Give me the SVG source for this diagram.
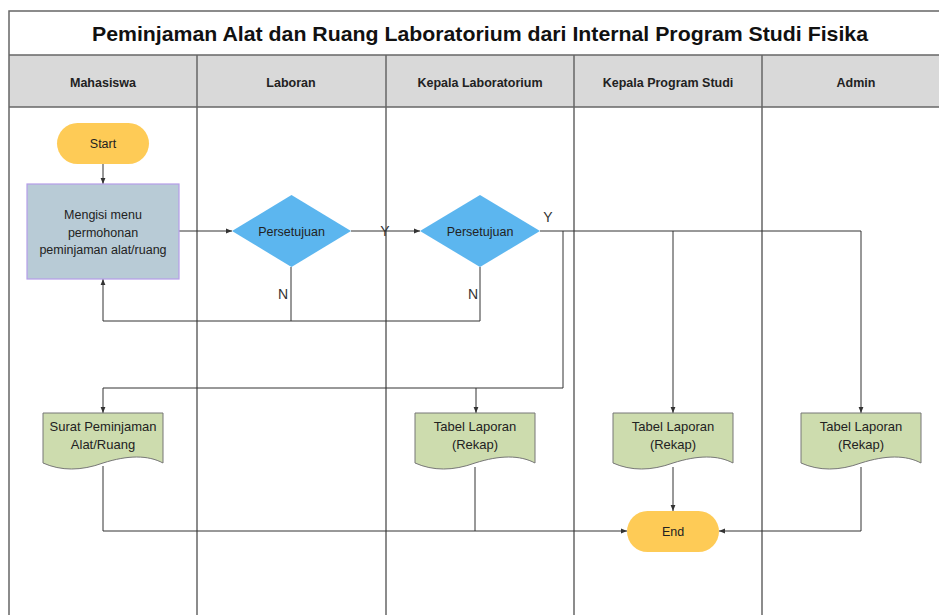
<svg xmlns="http://www.w3.org/2000/svg" width="939" height="615" viewBox="0 0 939 615">
  <defs>
    <marker id="arrow" viewBox="0 0 10 10" refX="10" refY="5" markerWidth="6" markerHeight="6" orient="auto" markerUnits="userSpaceOnUse">
      <path d="M0,1 L10,5 L0,9 Z" fill="#333"/>
    </marker>
    <path id="doc" d="M0,0 H120 V50 C105,42 85,42 60,50 C38,58 18,58 0,50 Z"/>
  </defs>
  <style>
    text { font-family: "Liberation Sans", Arial, sans-serif; fill: #222; }
    .frame { fill: none; stroke: #666; stroke-width: 1.5; }
    .header { fill: #d9d9d9; }
    .title { font-size: 21px; font-weight: bold; fill: #111; }
    .lane { font-size: 12.5px; font-weight: bold; text-anchor: middle; }
    .label { font-size: 12.5px; text-anchor: middle; }
    .doclabel { font-size: 13px; text-anchor: middle; }
    .yn { font-size: 14px; text-anchor: middle; fill: #333; }
    .terminal { fill: #fecb56; }
    .decision { fill: #5cb6ef; }
    .process { fill: #b8cbd6; stroke: #b59de8; stroke-width: 1.2; }
    .document { fill: #cddcae; stroke: #777; stroke-width: 1; }
    .conn { fill: none; stroke: #333; stroke-width: 1; }
    .arr { marker-end: url(#arrow); }
  </style>

  <rect width="939" height="615" fill="#fff"/>

  <!-- swimlane frame -->
  <g id="pool">
    <rect class="header" x="9" y="55" width="940" height="52"/>
    <rect class="frame" x="9" y="11" width="940" height="620"/>
    <line class="frame" x1="9" y1="55" x2="939" y2="55"/>
    <line class="frame" x1="9" y1="107" x2="939" y2="107"/>
    <line class="frame" x1="197" y1="55" x2="197" y2="615"/>
    <line class="frame" x1="386" y1="55" x2="386" y2="615"/>
    <line class="frame" x1="574" y1="55" x2="574" y2="615"/>
    <line class="frame" x1="762" y1="55" x2="762" y2="615"/>
    <text class="title" x="480" y="41" text-anchor="middle" textLength="776" lengthAdjust="spacingAndGlyphs">Peminjaman Alat dan Ruang Laboratorium dari Internal Program Studi Fisika</text>
    <text class="lane" x="103" y="87">Mahasiswa</text>
    <text class="lane" x="291" y="87">Laboran</text>
    <text class="lane" x="480" y="87">Kepala Laboratorium</text>
    <text class="lane" x="668" y="87">Kepala Program Studi</text>
    <text class="lane" x="856" y="87">Admin</text>
  </g>

  <!-- connectors -->
  <g id="connectors">
    <path class="conn arr" d="M103,164 V184"/>
    <path class="conn arr" d="M179,231 H232"/>
    <path class="conn arr" d="M351,231 H420"/>
    <path class="conn arr" d="M291,267 V321 H103 V279"/>
    <path class="conn" d="M480,267 V321 H291"/>
    <path class="conn arr" d="M540,231 H861 V413"/>
    <path class="conn arr" d="M673,231 V413"/>
    <path class="conn arr" d="M563,231 V388 H103 V413"/>
    <path class="conn arr" d="M476,388 V413"/>
    <path class="conn arr" d="M103,466 V531 H627"/>
    <path class="conn" d="M475,467 V531"/>
    <path class="conn arr" d="M673,467 V511"/>
    <path class="conn arr" d="M861,467 V531 H719"/>
    <text class="yn" x="385" y="236">Y</text>
    <text class="yn" x="548" y="222">Y</text>
    <text class="yn" x="283" y="299">N</text>
    <text class="yn" x="473" y="299">N</text>
  </g>

  <g id="start">
    <rect class="terminal" x="57" y="123" width="92" height="41" rx="20.5"/>
    <text class="label" x="103" y="148">Start</text>
  </g>

  <g id="isi-permohonan">
    <rect class="process" x="27" y="184" width="152" height="95"/>
    <text class="label" x="103" y="219" font-size="13">Mengisi menu</text>
    <text class="label" x="103" y="237" font-size="13">permohonan</text>
    <text class="label" x="103" y="254" font-size="13">peminjaman alat/ruang</text>
  </g>

  <g id="persetujuan-laboran">
    <polygon class="decision" points="291.5,195 351,231 291.5,267 232,231"/>
    <text class="label" x="291.5" y="235.5">Persetujuan</text>
  </g>

  <g id="persetujuan-kalab">
    <polygon class="decision" points="480,195 540,231 480,267 420,231"/>
    <text class="label" x="480" y="235.5">Persetujuan</text>
  </g>

  <g id="surat-peminjaman">
    <use href="#doc" class="document" x="43" y="413"/>
    <text class="doclabel" x="103" y="431">Surat Peminjaman</text>
    <text class="doclabel" x="103" y="449">Alat/Ruang</text>
  </g>

  <g id="laporan-kalab">
    <use href="#doc" class="document" x="415" y="413"/>
    <text class="doclabel" x="475" y="431">Tabel Laporan</text>
    <text class="doclabel" x="475" y="449">(Rekap)</text>
  </g>

  <g id="laporan-kaprodi">
    <use href="#doc" class="document" x="613" y="413"/>
    <text class="doclabel" x="673" y="431">Tabel Laporan</text>
    <text class="doclabel" x="673" y="449">(Rekap)</text>
  </g>

  <g id="laporan-admin">
    <use href="#doc" class="document" x="801" y="413"/>
    <text class="doclabel" x="861" y="431">Tabel Laporan</text>
    <text class="doclabel" x="861" y="449">(Rekap)</text>
  </g>

  <g id="end">
    <rect class="terminal" x="627" y="511" width="92" height="41" rx="20.5"/>
    <text class="label" x="673" y="536">End</text>
  </g>
</svg>
